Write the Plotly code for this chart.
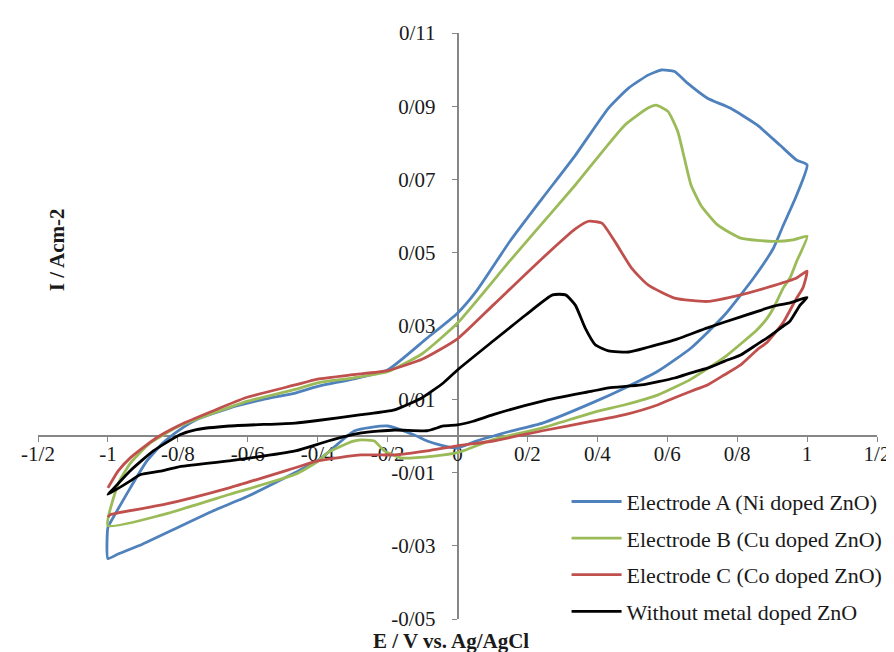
import plotly.graph_objects as go

# ---- data ----
E_A = [-1.0, -1.0, -0.988, -0.936, -0.889, -0.842, -0.794, -0.747, -0.653, -0.558, -0.464, -0.4, -0.3, -0.2,
       -0.087, 0.0, 0.054, 0.149, 0.243, 0.337, 0.432, 0.49, 0.545, 0.583, 0.621, 0.658, 0.715, 0.78, 0.857,
       0.922, 0.97, 1.0,
       0.97, 0.932, 0.904, 0.847, 0.764, 0.668, 0.574, 0.479, 0.385, 0.243, 0.149, 0.054, 0.0, -0.04, -0.087,
       -0.125, -0.2, -0.294, -0.37, -0.4, -0.464, -0.6, -0.7, -0.8, -0.9, -0.974, -1.0]
I_A = [-0.0335, -0.025, -0.0228, -0.0142, -0.0069, -0.0019, 0.0017, 0.0044, 0.0076, 0.0099, 0.0117, 0.0135,
       0.0155, 0.018, 0.0267, 0.0335, 0.0395, 0.053, 0.0649, 0.0766, 0.0895, 0.095, 0.0985, 0.0999, 0.0995,
       0.0963, 0.0922, 0.0895, 0.0849, 0.0794, 0.0753, 0.074,
       0.0657, 0.0575, 0.0513, 0.0431, 0.033, 0.024, 0.0177, 0.0131, 0.009, 0.0035, 0.0012, -0.0014, -0.0033,
       -0.0027, -0.0014, 0.0003, 0.0027, 0.0014, -0.0045, -0.0068, -0.0100, -0.0165, -0.0205, -0.025, -0.0295,
       -0.0324, -0.0335]

E_B = [-1.0, -0.97, -0.936, -0.88, -0.8, -0.7, -0.6, -0.464, -0.4, -0.3, -0.2, -0.1, 0.0, 0.149, 0.215, 0.337,
       0.479, 0.545, 0.568, 0.602, 0.63, 0.649, 0.668, 0.696, 0.744, 0.81, 0.904, 0.96, 1.0,
       0.97, 0.951, 0.932, 0.904, 0.885, 0.857, 0.764, 0.668, 0.574, 0.479, 0.385, 0.243, 0.102, 0.0, -0.068,
       -0.161, -0.209, -0.238, -0.275, -0.3, -0.37, -0.4, -0.464, -0.653, -0.842, -1.0]
I_B = [-0.0245, -0.013, -0.0075, -0.002, 0.0025, 0.0062, 0.0095, 0.0127, 0.0145, 0.0158, 0.0175, 0.0225, 0.0308,
       0.0477, 0.055, 0.0685, 0.0849, 0.0895, 0.0903, 0.0886, 0.0831, 0.0758, 0.0685, 0.063, 0.0576, 0.054,
       0.0531, 0.0535, 0.0545,
       0.0476, 0.0431, 0.0404, 0.0349, 0.032, 0.029, 0.0215, 0.0155, 0.0112, 0.0085, 0.0063, 0.0022, -0.001,
       -0.0046, -0.0055, -0.006, -0.0041, -0.0014, -0.0011, -0.0015, -0.0045, -0.007, -0.0105, -0.016, -0.0215,
       -0.0245]

E_C = [-1.0, -0.97, -0.936, -0.861, -0.794, -0.7, -0.606, -0.464, -0.4, -0.3, -0.2, -0.1, 0.0, 0.102, 0.243,
       0.337, 0.375, 0.413, 0.45, 0.498, 0.545, 0.621, 0.715, 0.81, 0.904, 0.97, 1.0,
       0.988, 0.97, 0.932, 0.885, 0.857, 0.81, 0.764, 0.715, 0.668, 0.621, 0.574, 0.479, 0.385, 0.243, 0.102,
       0.0, -0.087, -0.18, -0.275, -0.4, -0.464, -0.653, -0.842, -0.993, -1.0]
I_C = [-0.0142, -0.0095, -0.006, -0.0005, 0.003, 0.0068, 0.0104, 0.0139, 0.0155, 0.0167, 0.0178, 0.021, 0.0265,
       0.0357, 0.0485, 0.0565, 0.0586, 0.0581, 0.0531, 0.0458, 0.0412, 0.0376, 0.0367, 0.0385, 0.041, 0.0431,
       0.045,
       0.0404, 0.0376, 0.031, 0.0255, 0.0235, 0.0194, 0.0167, 0.0139, 0.0122, 0.0104, 0.0085, 0.0058, 0.004,
       0.0014, -0.0014, -0.0027, -0.0041, -0.0052, -0.0052, -0.0068, -0.0087, -0.0142, -0.0188, -0.0215, -0.0222]

E_D = [-1.0, -0.99, -0.936, -0.87, -0.794, -0.747, -0.653, -0.464, -0.4, -0.275, -0.18, -0.1, -0.04, 0.0, 0.102,
       0.195, 0.272, 0.309, 0.337, 0.365, 0.394, 0.432, 0.49, 0.545, 0.621, 0.715, 0.81, 0.904, 0.951, 1.0,
       0.98, 0.951, 0.932, 0.885, 0.857, 0.81, 0.764, 0.715, 0.668, 0.621, 0.526, 0.432, 0.385, 0.243, 0.102,
       0.045, 0.0, -0.04, -0.087, -0.18, -0.275, -0.37, -0.464, -0.653, -0.8, -0.842, -0.908, -0.936, -1.0]
I_D = [-0.016, -0.015, -0.0095, -0.0041, 0.0003, 0.0017, 0.0027, 0.0035, 0.0042, 0.0058, 0.0071, 0.0105, 0.0145,
       0.018, 0.0259, 0.033, 0.0385, 0.0385, 0.0357, 0.0295, 0.0249, 0.0232, 0.0229, 0.0242, 0.0262, 0.0295,
       0.0325, 0.0354, 0.0363, 0.0378,
       0.0357, 0.0313, 0.03, 0.0267, 0.025, 0.0221, 0.0204, 0.0185, 0.0172, 0.0158, 0.0139, 0.0131, 0.0122,
       0.0095, 0.0058, 0.004, 0.003, 0.0027, 0.0014, 0.0016, 0.0008, -0.0014, -0.0041, -0.0068, -0.0085,
       -0.0095, -0.0106, -0.0123, -0.016]

series_names = ["Electrode A (Ni doped ZnO)", "Electrode B (Cu doped ZnO)",
                "Electrode C (Co doped ZnO)", "Without metal doped ZnO"]
series_colors = ["#4F81BD", "#9BBB59", "#C0504D", "#000000"]

x_tickvals = [-1.2, -1.0, -0.8, -0.6, -0.4, -0.2, 0.0, 0.2, 0.4, 0.6, 0.8, 1.0, 1.2]
x_ticktext = ["-1/2", "-1", "-0/8", "-0/6", "-0/4", "-0/2", "0", "0/2", "0/4", "0/6", "0/8", "1", "1/2"]
y_tickvals = [-0.05, -0.03, -0.01, 0.01, 0.03, 0.05, 0.07, 0.09, 0.11]
y_ticktext = ["-0/05", "-0/03", "-0/01", "0/01", "0/03", "0/05", "0/07", "0/09", "0/11"]

x_title = "E / V vs. Ag/AgCl"
y_title = "I / Acm-2"

FONT = "Liberation Serif, Times New Roman, serif"

fig = go.Figure()
for E, I, name, col in zip([E_A, E_B, E_C, E_D], [I_A, I_B, I_C, I_D], series_names, series_colors):
    fig.add_trace(go.Scatter(x=E, y=I, mode="lines", name=name, legendgroup=name,
                             line=dict(color=col, width=2.8, shape="spline", smoothing=0.5)))

axis_common = dict(showline=True, linecolor="#868686", linewidth=1.5, ticks="outside", ticklen=5,
                   tickcolor="#868686", tickwidth=1.2, showgrid=False, zeroline=False,
                   tickfont=dict(family=FONT, size=21, color="#1a1a1a"), layer="below traces")

fig.update_xaxes(range=[-1.2, 1.2], tickmode="array", tickvals=x_tickvals, ticktext=x_ticktext,
                 anchor="free", position=0.3125, ticklabelstandoff=-6, **axis_common)
fig.update_yaxes(range=[-0.05, 0.11], tickmode="array", tickvals=y_tickvals, ticktext=y_ticktext,
                 anchor="free", position=0.5, ticklabelstandoff=12, **axis_common)

fig.update_layout(
    width=894, height=652,
    margin=dict(l=30, r=16, t=25, b=41),
    plot_bgcolor="white", paper_bgcolor="white",
    font=dict(family=FONT, size=20, color="#1a1a1a"),
    legend=dict(x=0.63, y=0.236, xanchor="left", yanchor="top", font=dict(family=FONT, size=22),
                bgcolor="rgba(0,0,0,0)", tracegroupgap=5, itemwidth=50),
    annotations=[
        dict(text="<b>" + y_title + "</b>", xref="paper", yref="paper", x=0.022, y=0.63,
             xanchor="center", yanchor="middle",
             textangle=-90, showarrow=False, font=dict(family=FONT, size=21, color="#1a1a1a")),
        dict(text="<b>" + x_title + "</b>", xref="paper", yref="paper", x=0.492, y=-0.038,
             xanchor="center", yanchor="middle",
             showarrow=False, font=dict(family=FONT, size=21, color="#1a1a1a")),
    ],
)

fig.write_html("out.html")
